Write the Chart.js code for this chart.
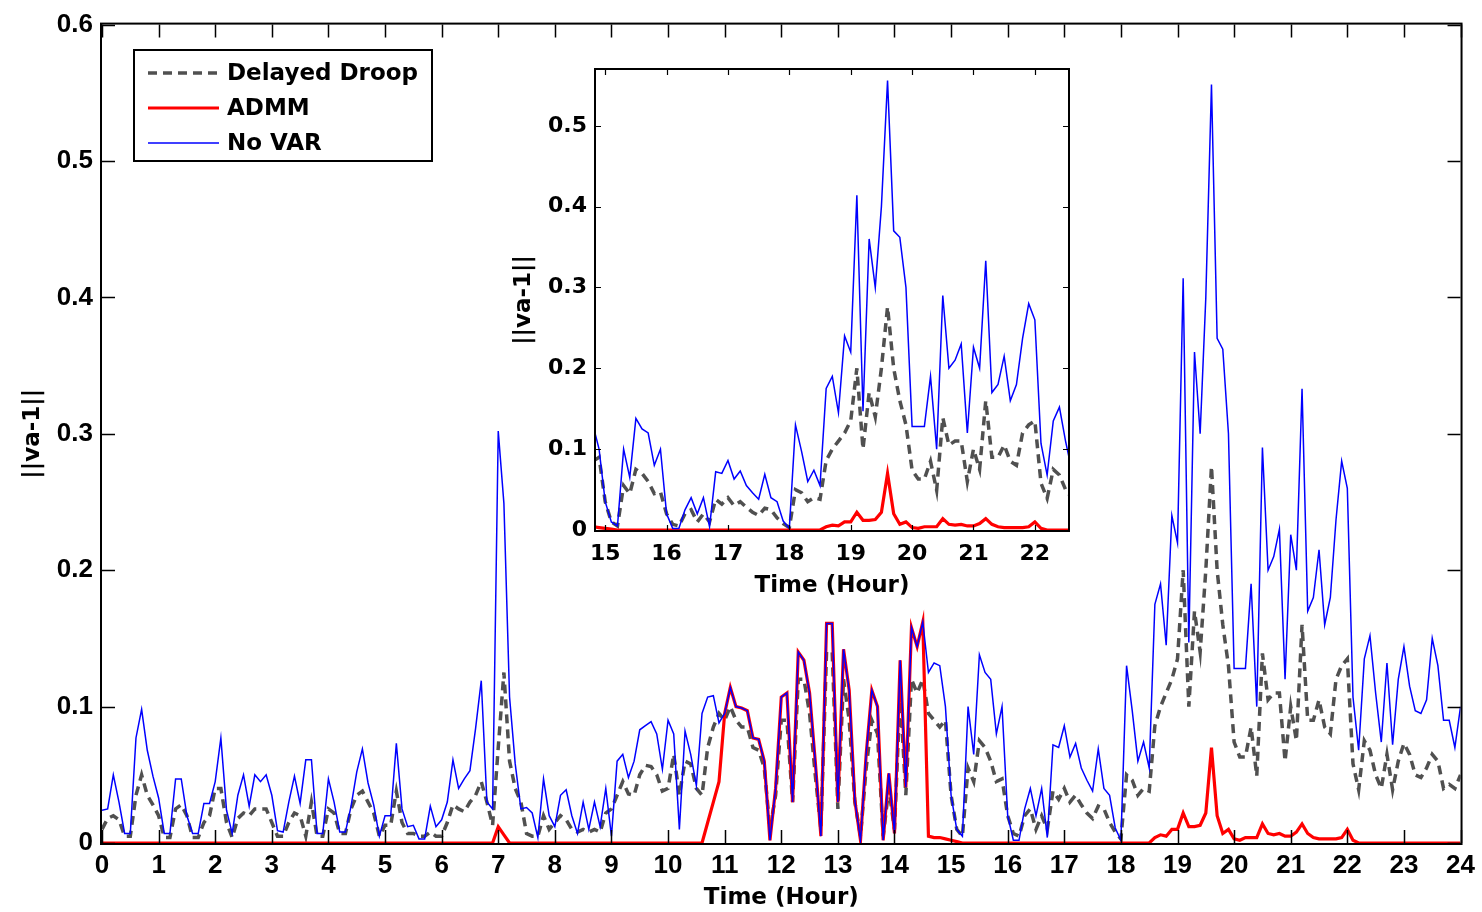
<!DOCTYPE html>
<html><head><meta charset="utf-8">
<script src="https://cdn.jsdelivr.net/npm/chart.js@4.4.0/dist/chart.umd.min.js"></script>
<style>
html,body{margin:0;padding:0;background:#fff;}
#wrap{position:relative;width:1482px;height:912px;background:#fff;}
#main{position:absolute;left:0;top:0;}
#inset{position:absolute;left:500px;top:40px;}
</style></head><body>
<div id="wrap"><canvas id="main" width="1482" height="912"></canvas><canvas id="inset" width="580" height="560"></canvas></div>
<script>
const hours = [
0,0.1,0.2,0.3,0.4,0.5,0.6,0.7,0.8,0.9,
1,1.1,1.2,1.3,1.4,1.5,1.6,1.7,1.8,1.9,
2,2.1,2.2,2.3,2.4,2.5,2.6,2.7,2.8,2.9,
3,3.1,3.2,3.3,3.4,3.5,3.6,3.7,3.8,3.9,
4,4.1,4.2,4.3,4.4,4.5,4.6,4.7,4.8,4.9,
5,5.1,5.2,5.3,5.4,5.5,5.6,5.7,5.8,5.9,
6,6.1,6.2,6.3,6.4,6.5,6.6,6.7,6.8,6.9,
7,7.1,7.2,7.3,7.4,7.5,7.6,7.7,7.8,7.9,
8,8.1,8.2,8.3,8.4,8.5,8.6,8.7,8.8,8.9,
9,9.1,9.2,9.3,9.4,9.5,9.6,9.7,9.8,9.9,
10,10.1,10.2,10.3,10.4,10.5,10.6,10.7,10.8,10.9,
11,11.1,11.2,11.3,11.4,11.5,11.6,11.7,11.8,11.9,
12,12.1,12.2,12.3,12.4,12.5,12.6,12.7,12.8,12.9,
13,13.1,13.2,13.3,13.4,13.5,13.6,13.7,13.8,13.9,
14,14.1,14.2,14.3,14.4,14.5,14.6,14.7,14.8,14.9,
15,15.1,15.2,15.3,15.4,15.5,15.6,15.7,15.8,15.9,
16,16.1,16.2,16.3,16.4,16.5,16.6,16.7,16.8,16.9,
17,17.1,17.2,17.3,17.4,17.5,17.6,17.7,17.8,17.9,
18,18.1,18.2,18.3,18.4,18.5,18.6,18.7,18.8,18.9,
19,19.1,19.2,19.3,19.4,19.5,19.6,19.7,19.8,19.9,
20,20.1,20.2,20.3,20.4,20.5,20.6,20.7,20.8,20.9,
21,21.1,21.2,21.3,21.4,21.5,21.6,21.7,21.8,21.9,
22,22.1,22.2,22.3,22.4,22.5,22.6,22.7,22.8,22.9,
23,23.1,23.2,23.3,23.4,23.5,23.6,23.7,23.8,23.9,
24];

const delayedDroop = [
0.01,0.018,0.02,0.017,0.005,0.005,0.035,0.05,0.035,0.028,
0.02,0.004,0.004,0.025,0.028,0.02,0.004,0.004,0.015,0.02,
0.04,0.04,0.015,0.004,0.018,0.022,0.02,0.025,0.025,0.025,
0.015,0.005,0.005,0.015,0.022,0.02,0.005,0.03,0.005,0.005,
0.025,0.022,0.007,0.007,0.025,0.035,0.038,0.03,0.022,0.005,
0.013,0.013,0.038,0.015,0.007,0.007,0.005,0.005,0.008,0.005,
0.005,0.015,0.028,0.025,0.023,0.03,0.035,0.045,0.03,0.013,
0.07,0.125,0.06,0.04,0.03,0.007,0.005,0.005,0.02,0.01,
0.015,0.02,0.017,0.01,0.008,0.01,0.008,0.01,0.008,0.022,
0.025,0.035,0.045,0.036,0.035,0.05,0.057,0.056,0.05,0.038,
0.04,0.065,0.035,0.06,0.058,0.04,0.035,0.07,0.085,0.095,
0.09,0.1,0.09,0.085,0.085,0.07,0.068,0.055,0.01,0.035,
0.09,0.09,0.03,0.12,0.12,0.095,0.05,0.01,0.14,0.14,
0.025,0.12,0.09,0.03,0.005,0.055,0.09,0.08,0.005,0.04,
0.01,0.11,0.035,0.12,0.11,0.12,0.095,0.09,0.085,0.09,
0.035,0.01,0.005,0.055,0.045,0.075,0.07,0.06,0.045,0.047,
0.02,0.007,0.005,0.02,0.025,0.01,0.02,0.01,0.038,0.032,
0.04,0.03,0.035,0.028,0.022,0.018,0.027,0.025,0.015,0.008,
0.003,0.05,0.046,0.035,0.04,0.038,0.086,0.1,0.11,0.12,
0.135,0.2,0.1,0.17,0.14,0.2,0.276,0.2,0.16,0.13,
0.074,0.063,0.063,0.085,0.049,0.139,0.105,0.11,0.11,0.06,
0.1,0.075,0.16,0.09,0.09,0.105,0.085,0.08,0.12,0.13,
0.135,0.058,0.039,0.075,0.068,0.05,0.04,0.065,0.039,0.06,
0.073,0.065,0.05,0.048,0.055,0.065,0.06,0.04,0.043,0.04,
0.05];

const admm = [
0,0,0,0,0,0,0,0,0,0,
0,0,0,0,0,0,0,0,0,0,
0,0,0,0,0,0,0,0,0,0,
0,0,0,0,0,0,0,0,0,0,
0,0,0,0,0,0,0,0,0,0,
0,0,0,0,0,0,0,0,0,0,
0,0,0,0,0,0,0,0,0,0,
0.012,0.006,0,0,0,0,0,0,0,0,
0,0,0,0,0,0,0,0,0,0,
0,0,0,0,0,0,0,0,0,0,
0,0,0,0,0,0,0,0.015,0.03,0.045,
0.095,0.114,0.1,0.099,0.097,0.077,0.076,0.06,0.002,0.04,
0.107,0.11,0.03,0.14,0.134,0.11,0.06,0.005,0.161,0.161,
0.03,0.142,0.112,0.031,0.002,0.065,0.112,0.1,0.002,0.051,
0.007,0.134,0.041,0.158,0.144,0.162,0.005,0.004,0.004,0.003,
0.002,0.001,0,0,0,0,0,0,0,0,
0,0,0,0,0,0,0,0,0,0,
0,0,0,0,0,0,0,0,0,0,
0,0,0,0,0,0,0.004,0.006,0.005,0.01,
0.01,0.022,0.012,0.012,0.013,0.022,0.07,0.02,0.007,0.01,
0.003,0.002,0.004,0.004,0.004,0.014,0.007,0.006,0.007,0.005,
0.005,0.008,0.014,0.007,0.004,0.003,0.003,0.003,0.003,0.004,
0.01,0.002,0,0,0,0,0,0,0,0,
0,0,0,0,0,0,0,0,0,0,
0];

const noVar = [
0.024,0.025,0.05,0.03,0.007,0.007,0.077,0.098,0.068,0.049,
0.033,0.007,0.007,0.047,0.047,0.02,0.007,0.007,0.029,0.029,
0.045,0.077,0.024,0.007,0.035,0.05,0.027,0.05,0.045,0.05,
0.035,0.009,0.008,0.03,0.049,0.029,0.061,0.061,0.007,0.007,
0.047,0.03,0.008,0.008,0.027,0.052,0.069,0.044,0.028,0.005,
0.02,0.02,0.073,0.025,0.012,0.013,0.003,0.003,0.027,0.012,
0.017,0.03,0.061,0.04,0.047,0.053,0.084,0.119,0.03,0.025,
0.302,0.249,0.107,0.058,0.025,0.026,0.022,0.004,0.047,0.02,
0.012,0.035,0.039,0.02,0.007,0.03,0.01,0.03,0.012,0.04,
0.005,0.06,0.065,0.048,0.06,0.083,0.086,0.089,0.08,0.054,
0.09,0.08,0.01,0.082,0.065,0.042,0.095,0.107,0.108,0.088,
0.095,0.114,0.1,0.099,0.097,0.077,0.076,0.06,0.002,0.04,
0.107,0.11,0.03,0.14,0.134,0.11,0.06,0.005,0.161,0.161,
0.03,0.142,0.112,0.031,0.002,0.065,0.112,0.1,0.002,0.051,
0.007,0.134,0.041,0.158,0.144,0.162,0.125,0.132,0.13,0.1,
0.035,0.01,0.005,0.1,0.065,0.138,0.125,0.12,0.08,0.1,
0.02,0.002,0.002,0.025,0.04,0.02,0.04,0.004,0.072,0.07,
0.086,0.063,0.073,0.055,0.046,0.038,0.069,0.04,0.035,0.011,
0.002,0.13,0.097,0.06,0.074,0.055,0.175,0.19,0.145,0.24,
0.22,0.414,0.147,0.36,0.3,0.4,0.556,0.37,0.362,0.3,
0.128,0.128,0.128,0.19,0.1,0.29,0.2,0.21,0.23,0.12,
0.226,0.2,0.333,0.17,0.18,0.215,0.16,0.18,0.237,0.28,
0.26,0.107,0.068,0.135,0.152,0.11,0.074,0.132,0.072,0.12,
0.144,0.115,0.097,0.095,0.105,0.15,0.13,0.09,0.09,0.07,
0.1];

const seriesNames = ['Delayed Droop', 'ADMM', 'No VAR'];
const mainXTicks = [0,1,2,3,4,5,6,7,8,9,10,11,12,13,14,15,16,17,18,19,20,21,22,23,24];
const mainXLabels = ['0','1','2','3','4','5','6','7','8','9','10','11','12','13','14','15','16','17','18','19','20','21','22','23','24'];
const mainYTicks = [0,0.1,0.2,0.3,0.4,0.5,0.6];
const mainYLabels = ['0','0.1','0.2','0.3','0.4','0.5','0.6'];
const insetXTicks = [15,16,17,18,19,20,21,22];
const insetXLabels = ['15','16','17','18','19','20','21','22'];
const insetYTicks = [0,0.1,0.2,0.3,0.4,0.5];
const insetYLabels = ['0','0.1','0.2','0.3','0.4','0.5'];
const xTitle = 'Time (Hour)';
const yTitle = '||va-1||';

const FONT = '"DejaVu Sans", "Liberation Sans", Arial, sans-serif';
const TICKFONT_MAIN = '"Liberation Sans", Arial, sans-serif';

function pts(vals) { return hours.map((h, i) => ({x: h, y: vals[i]})); }

function makeDatasets() {
  return [
    {label: seriesNames[0], data: pts(delayedDroop), borderColor: '#505050', borderWidth: 3.5, borderDash: [9, 6], order: 3},
    {label: seriesNames[1], data: pts(admm), borderColor: '#ff0000', borderWidth: 3.2, order: 2},
    {label: seriesNames[2], data: pts(noVar), borderColor: '#0000ff', borderWidth: 1.5, order: 1}
  ];
}

const framePlugin = {
  id: 'frame',
  beforeDatasetsDraw(chart, args, opts) {
    if (!opts.fill) return;
    const a = chart.chartArea, ctx = chart.ctx;
    ctx.save(); ctx.fillStyle = '#fff'; ctx.fillRect(a.left, a.top, a.width, a.height); ctx.restore();
  },
  afterDatasetsDraw(chart, args, opts) {
    const {ctx, chartArea: a, scales: {x, y}} = chart;
    const L = opts.len;
    ctx.save();
    ctx.strokeStyle = '#000';
    ctx.lineWidth = opts.tickWidth;
    ctx.beginPath();
    x.ticks.forEach(t => {
      const px = Math.round(x.getPixelForValue(t.value)) + 0.5;
      ctx.moveTo(px, a.bottom); ctx.lineTo(px, a.bottom - L);
      ctx.moveTo(px, a.top); ctx.lineTo(px, a.top + L);
    });
    y.ticks.forEach(t => {
      const py = Math.round(y.getPixelForValue(t.value)) + 0.5;
      ctx.moveTo(a.left, py); ctx.lineTo(a.left + L, py);
      ctx.moveTo(a.right, py); ctx.lineTo(a.right - L, py);
    });
    ctx.stroke();
    const w = opts.width;
    ctx.lineWidth = w;
    ctx.strokeRect(a.left - w / 2, a.top - w / 2, a.width + w, a.height + w);
    ctx.restore();
  }
};

const legendPlugin = {
  id: 'boxLegend',
  afterDraw(chart, args, opts) {
    if (!opts.show) return;
    const ctx = chart.ctx;
    const ds = chart.data.datasets;
    ctx.save();
    ctx.fillStyle = '#fff';
    ctx.fillRect(134, 50, 298, 111);
    ctx.strokeStyle = '#000'; ctx.lineWidth = 2;
    ctx.strokeRect(134, 50, 298, 111);
    const rows = [73, 108, 143];
    ds.forEach((d, i) => {
      ctx.beginPath();
      ctx.strokeStyle = d.borderColor;
      ctx.lineWidth = d.borderWidth;
      ctx.setLineDash(d.borderDash || []);
      ctx.moveTo(148, rows[i]); ctx.lineTo(219, rows[i]);
      ctx.stroke();
      ctx.setLineDash([]);
      ctx.fillStyle = '#000';
      ctx.font = 'bold 23px ' + FONT;
      ctx.textBaseline = 'middle';
      ctx.textAlign = 'left';
      ctx.fillText(d.label, 227, rows[i] + 1);
    });
    ctx.restore();
  }
};

function axisOpts(cfg) {
  return {
    x: {
      type: 'linear', min: cfg.xMin, max: cfg.xMax,
      afterBuildTicks: s => { s.ticks = cfg.xTicks.map(v => ({value: v})); },
      afterFit: s => { s.height = cfg.xHeight; },
      grid: {display: false, drawTicks: false},
      border: {display: false},
      ticks: {autoSkip: false, maxRotation: 0, color: '#000', padding: cfg.xPad,
        font: {family: cfg.tickFamily, size: cfg.tickSize, weight: 'bold'},
        callback: (v, i) => cfg.xLabels[i]},
      title: {display: true, text: xTitle, color: '#000', padding: 0,
        font: {family: FONT, size: 23, weight: 'bold'}}
    },
    y: {
      type: 'linear', min: 0, max: cfg.yMax,
      afterBuildTicks: s => { s.ticks = cfg.yTicks.map(v => ({value: v})); },
      afterFit: s => { s.width = cfg.yWidth; },
      grid: {display: false, drawTicks: false},
      border: {display: false},
      ticks: {color: '#000', padding: 9,
        font: {family: cfg.tickFamily, size: cfg.tickSize, weight: 'bold'},
        callback: (v, i) => cfg.yLabels[i]},
      title: {display: true, text: yTitle, color: '#000', padding: {top: cfg.yTitlePad, bottom: 0},
        font: {family: FONT, size: 23, weight: 'bold'}}
    }
  };
}

const common = {
  responsive: false, animation: false, devicePixelRatio: 1,
  elements: {point: {radius: 0}, line: {tension: 0}},
  events: []
};

new Chart(document.getElementById('main'), {
  type: 'line',
  data: {datasets: makeDatasets()},
  plugins: [framePlugin, legendPlugin],
  options: Object.assign({}, common, {
    layout: {padding: {top: 24, right: 20, left: 0, bottom: 0}},
    plugins: {legend: {display: false}, tooltip: {enabled: false},
      frame: {len: 13, width: 2, tickWidth: 1.5, fill: false},
      boxLegend: {show: true}},
    scales: axisOpts({xMin: 0, xMax: 24, xTicks: mainXTicks, xLabels: mainXLabels, xHeight: 69, xPad: 7,
      tickFamily: TICKFONT_MAIN, tickSize: 26,
      yMax: 0.6, yTicks: mainYTicks, yLabels: mainYLabels, yWidth: 102, yTitlePad: 19})
  })
});

new Chart(document.getElementById('inset'), {
  type: 'line',
  data: {datasets: makeDatasets()},
  plugins: [framePlugin],
  options: Object.assign({}, common, {
    layout: {padding: {top: 30, right: 12, left: 0, bottom: 0}},
    plugins: {legend: {display: false}, tooltip: {enabled: false},
      frame: {len: 5, width: 2, tickWidth: 1.2, fill: true},
      boxLegend: {show: false}},
    scales: axisOpts({xMin: 14.85, xMax: 22.54, xTicks: insetXTicks, xLabels: insetXLabels, xHeight: 70, xPad: 11,
      tickFamily: FONT, tickSize: 22,
      yMax: 0.569, yTicks: insetYTicks, yLabels: insetYLabels, yWidth: 96, yTitlePad: 10})
  })
});
</script>
</body></html>
